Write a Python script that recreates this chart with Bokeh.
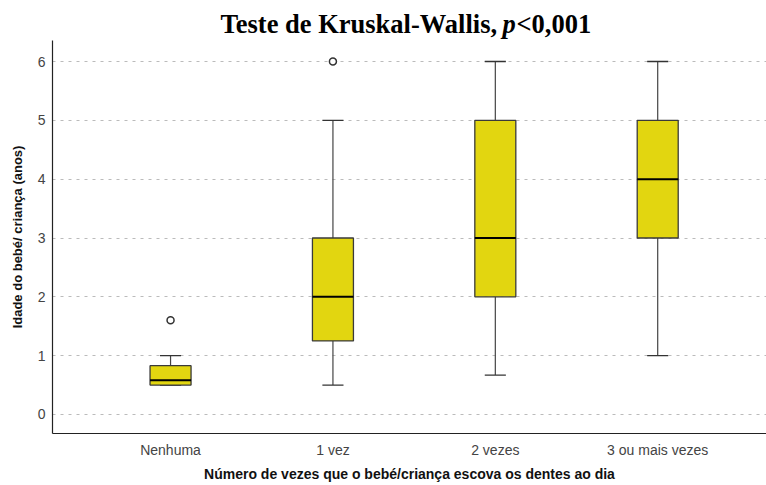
from bokeh.plotting import figure
from bokeh.models import ColumnDataSource, FixedTicker, Range1d
from bokeh.layouts import column
from bokeh.core.properties import value
from bokeh.embed import file_html
from bokeh.resources import INLINE

categories = ["Nenhuma", "1 vez", "2 vezes", "3 ou mais vezes"]
lower = [0.5, 0.5, 0.67, 1.0]
q1 = [0.5, 1.25, 2.0, 3.0]
median = [0.58, 2.0, 3.0, 4.0]
q3 = [0.83, 3.0, 5.0, 5.0]
upper = [1.0, 5.0, 6.0, 6.0]
outlier_cat = [0, 1]
outlier_val = [1.6, 6.0]
y_ticks = [0, 1, 2, 3, 4, 5, 6]

title_main = "Teste de Kruskal-Wallis,"
title_p = "p"
title_rest = "<0,001"

W = 766
TITLE_H = 40
MAIN_H = 445
LEFT = 52

BOX_W = 0.2525
CAP_W = 0.13

# ---------- title strip (its frame is aligned with the chart frame: x from 52 to 766) ----------
t = figure(width=W, height=TITLE_H, output_backend="svg", toolbar_location=None,
           x_range=Range1d(LEFT, W), y_range=Range1d(0, TITLE_H),
           x_axis_type=None, y_axis_type=None,
           min_border_left=LEFT, min_border_right=0, min_border_top=0, min_border_bottom=0)
t.outline_line_color = None
t.grid.visible = False
tfont = value("Liberation Serif")
tsize = value("26.5px")
ty = 16.5
t.text(x=[220], y=[ty], text=[title_main], text_align="left", text_baseline="middle",
       text_font=tfont, text_font_style="bold", text_font_size=tsize, text_color="black")
t.text(x=[502], y=[ty], text=[title_p], text_align="left", text_baseline="middle",
       text_font=tfont, text_font_style="bold italic", text_font_size=tsize, text_color="black")
t.text(x=[516], y=[ty], text=[title_rest], text_align="left", text_baseline="middle",
       text_font=tfont, text_font_style="bold", text_font_size=tsize, text_color="black")

# ---------- main chart ----------
xs = list(range(len(categories)))
src = ColumnDataSource(dict(
    x=xs, lower=lower, q1=q1, median=median, q3=q3, upper=upper,
    x0=[x - BOX_W / 2 for x in xs], x1=[x + BOX_W / 2 for x in xs],
    c0=[x - CAP_W / 2 for x in xs], c1=[x + CAP_W / 2 for x in xs],
))
osrc = ColumnDataSource(dict(x=outlier_cat, y=outlier_val))

p = figure(width=W, height=MAIN_H, output_backend="svg", toolbar_location=None,
           x_range=Range1d(-0.727, 3.670), y_range=Range1d(-0.323, 6.357),
           min_border_left=LEFT, min_border_right=0, min_border_top=0, min_border_bottom=52)
p.outline_line_color = None
p.background_fill_color = "white"

p.segment(x0="x", y0="q3", x1="x", y1="upper", source=src, line_color="#444444", line_width=1.2)
p.segment(x0="x", y0="lower", x1="x", y1="q1", source=src, line_color="#444444", line_width=1.2)
p.segment(x0="c0", y0="upper", x1="c1", y1="upper", source=src, line_color="#333333", line_width=1.4)
p.segment(x0="c0", y0="lower", x1="c1", y1="lower", source=src, line_color="#333333", line_width=1.4)
p.vbar(x="x", width=BOX_W, bottom="q1", top="q3", source=src,
       fill_color="#e2d610", line_color="#3a3a3a", line_width=1.3)
p.segment(x0="x0", y0="median", x1="x1", y1="median", source=src, line_color="#000000", line_width=2)
p.scatter(x="x", y="y", source=osrc, size=7, fill_color="white", line_color="#333333", line_width=1.5)

p.xaxis.ticker = FixedTicker(ticks=xs)
p.xaxis.major_label_overrides = {i: c for i, c in enumerate(categories)}
p.yaxis.ticker = FixedTicker(ticks=y_ticks)
for ax in (p.xaxis[0], p.yaxis[0]):
    ax.axis_line_color = "#222222"
    ax.axis_line_width = 1.2
    ax.major_tick_line_color = None
    ax.minor_tick_line_color = None
    ax.major_label_text_font = "Liberation Sans"
    ax.major_label_text_font_size = "14px"
    ax.major_label_text_color = "#444444"
    ax.axis_label_text_font = "Liberation Sans"
    ax.axis_label_text_font_style = "bold"
    ax.axis_label_text_color = "#111111"
p.xaxis.major_label_standoff = 2
p.xaxis.axis_label = "Número de vezes que o bebé/criança escova os dentes ao dia"
p.xaxis.axis_label_text_font_size = "14px"
p.xaxis.axis_label_standoff = 5
p.yaxis.major_label_standoff = 1
p.yaxis.axis_label = "Idade do bebé/ criança (anos)"
p.yaxis.axis_label_text_font_size = "13px"
p.yaxis.axis_label_standoff = 10

p.xgrid.grid_line_color = None
p.ygrid.grid_line_color = "#bbbbbb"
p.ygrid.grid_line_dash = "3 5"
p.ygrid.grid_line_width = 1

layout = column(t, p, spacing=0)
open("out.html", "w").write(file_html(layout, INLINE))
